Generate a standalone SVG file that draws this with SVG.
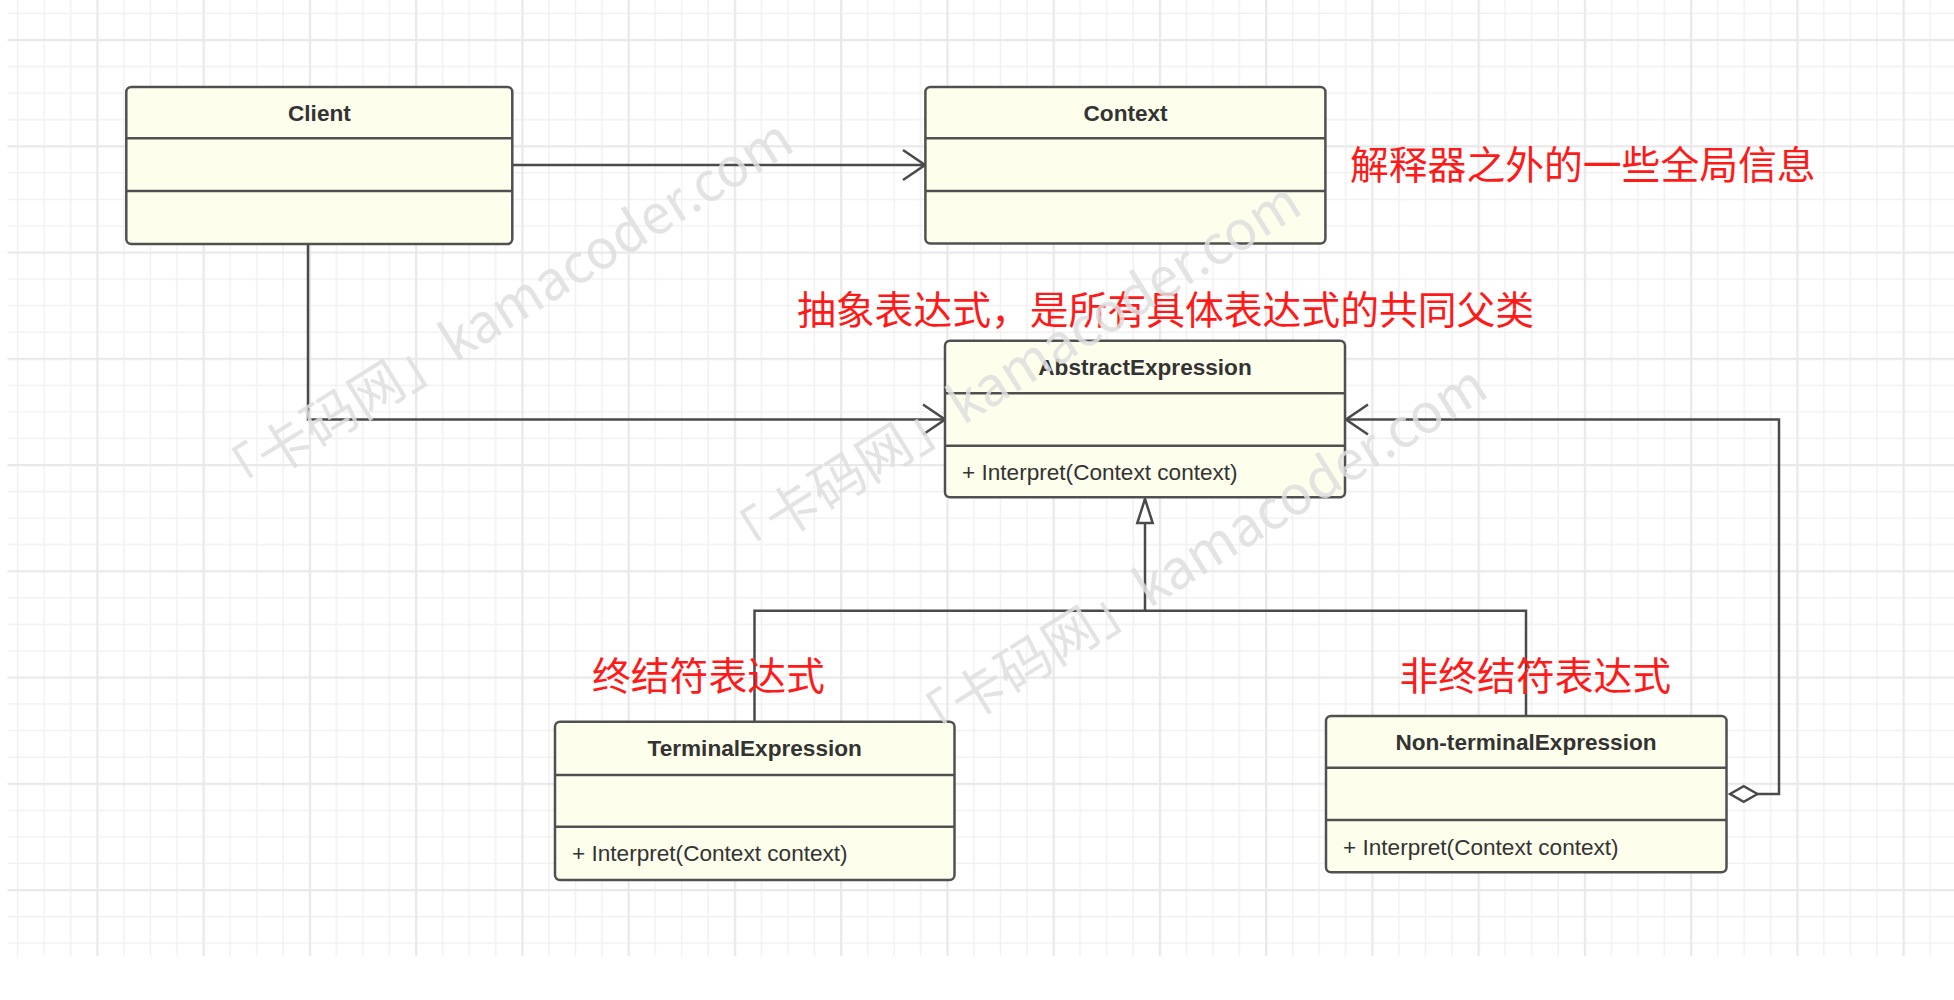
<svg xmlns="http://www.w3.org/2000/svg" width="1954" height="1000" viewBox="0 0 1954 1000">
<style>
.box{fill:#fefeec;stroke:#505050;stroke-width:2.5}
.div{stroke:#505050;stroke-width:2.5}
.title{font-family:"Liberation Sans",Arial,sans-serif;font-size:22.6px;font-weight:bold;fill:#333;text-anchor:middle}
.meth{font-family:"Liberation Sans",Arial,sans-serif;font-size:22.6px;fill:#333}
.conn{fill:none;stroke:#4a4a4a;stroke-width:2.5}
.note{font-family:"Noto Sans CJK SC","Noto Sans",sans-serif;font-size:38.8px;fill:#ff1a1a}
.wm{font-family:"Noto Sans CJK SC","Noto Sans",sans-serif;font-size:54px;fill:#dedede;fill-opacity:0.85}
</style>
<defs>
<pattern id="grid" patternUnits="userSpaceOnUse" x="96.3" y="39" width="106.25" height="106.25">
<path d="M27.56 0V106.25M54.125 0V106.25M80.69 0V106.25M0 27.56H106.25M0 54.125H106.25M0 80.69H106.25" stroke="#f1f1f1" stroke-width="1.5" fill="none"/>
<path d="M1 0V106.25M0 1H106.25" stroke="#e9e9e9" stroke-width="2.5" fill="none"/>
</pattern>
<marker id="open" markerUnits="userSpaceOnUse" viewBox="-25 -17 27 34" markerWidth="27" markerHeight="34" refX="0" refY="0" orient="auto">
<path d="M-22,-15 L0,0 L-22,15" fill="none" stroke="#4a4a4a" stroke-width="2.5"/>
</marker>
<marker id="tri" markerUnits="userSpaceOnUse" viewBox="-27 -11 29 22" markerWidth="29" markerHeight="22" refX="0" refY="0" orient="auto">
<path d="M0,0 L-24,-7.7 L-24,7.7 Z" fill="#ffffff" stroke="#4a4a4a" stroke-width="2.5"/>
</marker>
<marker id="dia" markerUnits="userSpaceOnUse" viewBox="-2 -10 31 20" markerWidth="31" markerHeight="20" refX="0" refY="0" orient="auto">
<path d="M0,0 L13.7,-7.8 L27.5,0 L13.7,7.8 Z" fill="#ffffff" stroke="#4a4a4a" stroke-width="2.5"/>
</marker>
</defs>
<rect width="1954" height="1000" fill="#ffffff"/>
<rect x="7.5" y="0" width="1946.5" height="956" fill="url(#grid)"/>

<g id="connectors">
<path class="conn" d="M512.5,165 H925" marker-end="url(#open)"/>
<path class="conn" d="M308,244 V419.5 H945" marker-end="url(#open)"/>
<path class="conn" d="M754.5,721.7 V610.7 H1526 V716"/>
<path class="conn" d="M1145,610.7 V499" marker-end="url(#tri)"/>
<path class="conn" d="M1730,794 H1779 V419.5 H1346" marker-start="url(#dia)" marker-end="url(#open)"/>
</g>

<g id="Client">
<rect class="box" x="126.3" y="87" width="386" height="157" rx="5"/>
<line class="div" x1="126.3" y1="138.3" x2="512.3" y2="138.3"/>
<line class="div" x1="126.3" y1="191" x2="512.3" y2="191"/>
<text class="title" x="319.4" y="120.6">Client</text>
</g>

<g id="Context">
<rect class="box" x="925.4" y="87" width="400" height="156.5" rx="5"/>
<line class="div" x1="925.4" y1="138.3" x2="1325.4" y2="138.3"/>
<line class="div" x1="925.4" y1="191" x2="1325.4" y2="191"/>
<text class="title" x="1125.6" y="120.6">Context</text>
</g>

<g id="AbstractExpression">
<rect class="box" x="945" y="340.7" width="400" height="156.6" rx="5"/>
<line class="div" x1="945" y1="393.3" x2="1345" y2="393.3"/>
<line class="div" x1="945" y1="445.7" x2="1345" y2="445.7"/>
<text class="title" x="1145" y="374.6">AbstractExpression</text>
<text class="meth" x="962" y="479.6">+ Interpret(Context context)</text>
</g>

<g id="TerminalExpression">
<rect class="box" x="555" y="721.7" width="399.5" height="158.3" rx="5"/>
<line class="div" x1="555" y1="775" x2="954.5" y2="775"/>
<line class="div" x1="555" y1="826.7" x2="954.5" y2="826.7"/>
<text class="title" x="754.7" y="756.2">TerminalExpression</text>
<text class="meth" x="572" y="861.2">+ Interpret(Context context)</text>
</g>

<g id="NonterminalExpression">
<rect class="box" x="1326" y="716" width="400.5" height="156.3" rx="5"/>
<line class="div" x1="1326" y1="767.7" x2="1726.5" y2="767.7"/>
<line class="div" x1="1326" y1="820" x2="1726.5" y2="820"/>
<text class="title" x="1526" y="749.6">Non-terminalExpression</text>
<text class="meth" x="1343" y="854.6">+ Interpret(Context context)</text>
</g>

<g id="notes">
<text class="note" x="1350" y="179">解释器之外的一些全局信息</text>
<text class="note" x="797" y="323.5">抽象表达式，是所有具体表达式的共同父类</text>
<text class="note" x="592" y="689.5">终结符表达式</text>
<text class="note" x="1399.5" y="689.5">非终结符表达式</text>
</g>

<g id="watermarks">
<text class="wm" transform="translate(226,506) rotate(-32)">「卡码网」kamacoder.com</text>
<text class="wm" transform="translate(734,569) rotate(-32)">「卡码网」kamacoder.com</text>
<text class="wm" transform="translate(920,752) rotate(-32)">「卡码网」kamacoder.com</text>
</g>
</svg>
